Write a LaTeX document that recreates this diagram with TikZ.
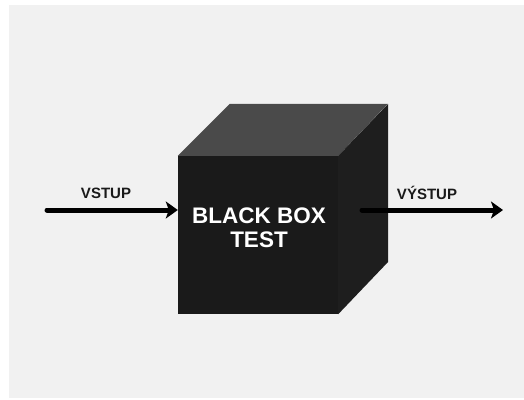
\documentclass[tikz,border=0pt]{standalone}
\usepackage{fontspec}
\setmainfont{Liberation Sans}
\usetikzlibrary{arrows.meta}
\definecolor{paper}{HTML}{F1F1F1}
\definecolor{frontface}{HTML}{1A1A1A}
\definecolor{topface}{HTML}{4A4A4A}
\definecolor{sideface}{HTML}{1E1E1E}
\definecolor{ink}{HTML}{1A1A1A}
\tikzset{
  face/.style={draw=none},
  flow/.style={line width=5pt, draw=black, line cap=round,
    -{Stealth[length=12pt,width=17pt,inset=3pt]}},
  tag/.style={font=\bfseries\fontsize{15}{18}\selectfont, text=ink, inner sep=0pt},
  title/.style={font=\bfseries\fontsize{22.5}{24}\selectfont, text=white,
    align=center, inner sep=0pt}
}
\begin{document}
\begin{tikzpicture}[x=1pt, y=-1pt]
  % page and background
  \useasboundingbox (0,0) rectangle (524,399);
  \fill[white] (0,0) rectangle (524,399);
  \fill[paper] (9,5) rectangle (524,398);
  % cube: front face as a node, top and side faces from its corners
  \node[face, fill=frontface, minimum width=160pt, minimum height=158pt,
        inner sep=0pt] (front) at (258,235) {};
  \fill[topface] (front.north west) -- ++(52,-52) -- ++(158,0)
    -- (front.north east) -- cycle;
  \fill[sideface] (front.north east) -- ++(50,-52) -- ++(0,158)
    -- (front.south east) -- cycle;
  \node[title] (caption) at (259,228) {BLACK BOX\\TEST};
  % input and output
  \coordinate (src) at (47,210);
  \coordinate (outstart) at (362,210);
  \coordinate (dst) at (503,210);
  \draw[flow] (src) -- (src -| front.west);
  \draw[flow] (outstart) -- (dst);
  \node[tag] (vin) at (106,193) {VSTUP};
  \node[tag] (vout) at (427,193) {VÝSTUP};
\end{tikzpicture}
\end{document}
